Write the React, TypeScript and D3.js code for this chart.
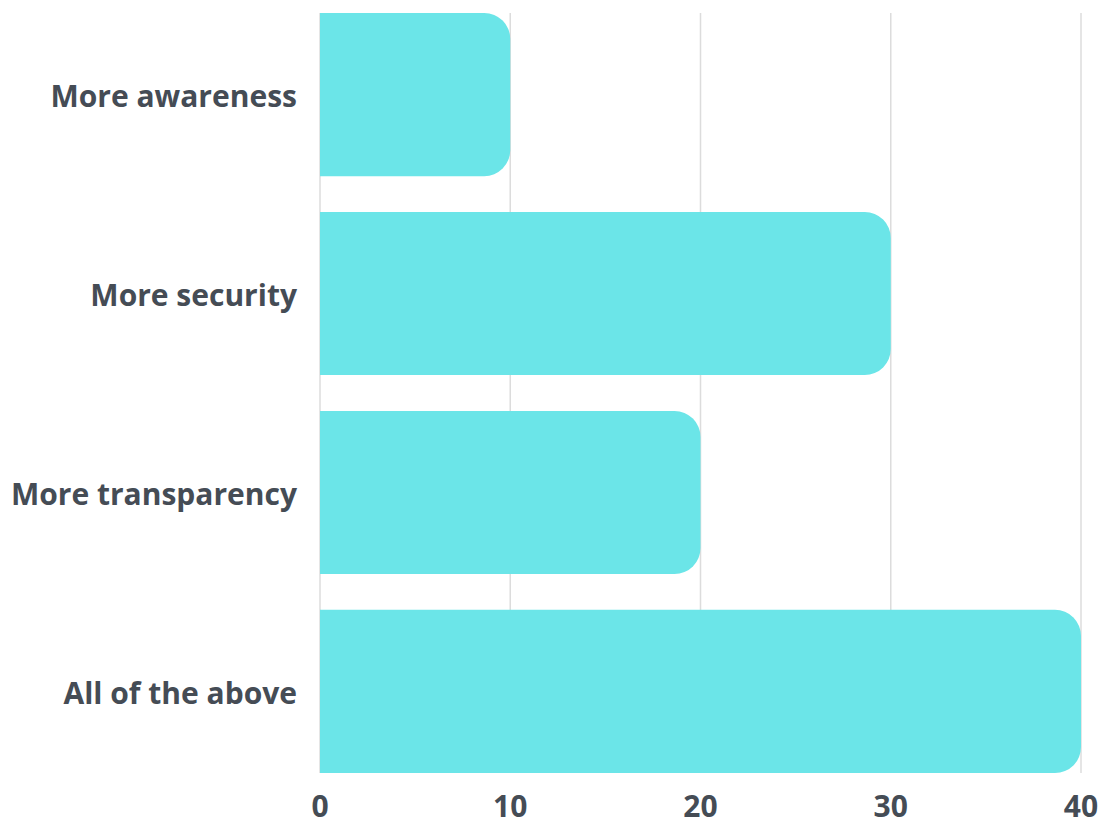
import React from "react";
import * as d3 from "d3";

const categories = ["More awareness", "More security", "More transparency", "All of the above"];
const values = [10, 30, 20, 40];
const ticks = [0, 10, 20, 30, 40];

const W = 1105, H = 823;
const left = 320, right = 1081, top = 13, bottom = 773;

function barPath(x0: number, x1: number, y0: number, y1: number, r: number) {
  const rr = Math.min(r, (x1 - x0), (y1 - y0) / 2);
  return `M${x0},${y0}H${x1 - rr}A${rr},${rr} 0 0 1 ${x1},${y0 + rr}V${y1 - rr}A${rr},${rr} 0 0 1 ${x1 - rr},${y1}H${x0}Z`;
}

export default function App() {
  const x = d3.scaleLinear().domain([0, 40]).range([left, right]);
  const y = d3.scaleBand<string>().domain(categories).range([top, bottom]).paddingInner(0.18).paddingOuter(0);
  const font = "'Open Sans', sans-serif";
  const textColor = "#454c55";
  return (
    <svg width={W} height={H} style={{ position: "absolute", left: 0, top: 0 }}>
      <rect width={W} height={H} fill="#fff" />
      {ticks.map((t) => (
        <line key={t} x1={x(t)} x2={x(t)} y1={top} y2={bottom} stroke="#dcdcdc" strokeWidth={1.5} />
      ))}
      {categories.map((c, i) => (
        <path key={c} d={barPath(x(0), x(values[i]), y(c)!, y(c)! + y.bandwidth(), 26)} fill="#6be5e8" />
      ))}
      {categories.map((c) => (
        <text key={c} x={297} y={y(c)! + y.bandwidth() / 2 + 2} dy="0.35em" textAnchor="end"
          fontFamily={font} fontWeight={700} fontSize={30} fill={textColor}>{c}</text>
      ))}
      {ticks.map((t) => (
        <text key={t} x={x(t)} y={806} dy="0.35em" textAnchor="middle"
          fontFamily={font} fontWeight={700} fontSize={30} fill={textColor}>{t}</text>
      ))}
    </svg>
  );
}
